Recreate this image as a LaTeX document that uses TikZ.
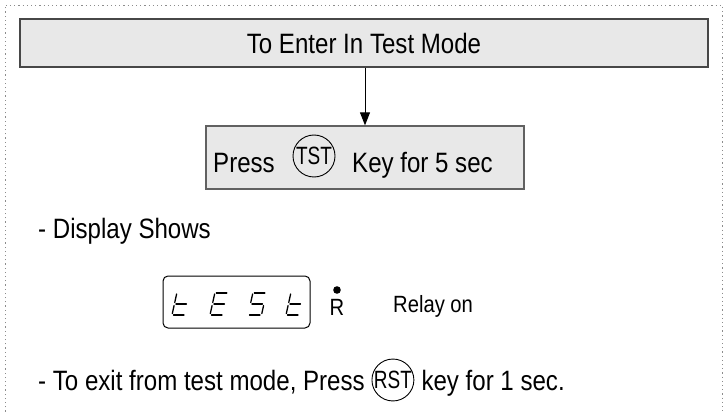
\documentclass[tikz,border=0pt]{standalone}
\usepackage{fontspec}
\setmainfont[FakeStretch=0.86]{Liberation Sans}
\newfontfamily\keyfont[FakeStretch=0.76]{Liberation Sans}
\usetikzlibrary{arrows.meta}
\usetikzlibrary{positioning}
\usetikzlibrary{calc}

\tikzset{
  modebox/.style={draw=black!72, line width=1.3pt, fill=black!9, inner sep=0pt},
  keycap/.style={draw, circle, line width=0.9pt, inner sep=0pt, minimum size=42pt,
    font=\keyfont\fontsize{25}{26}\selectfont},
  bigtext/.style={font=\fontsize{28}{32}\selectfont, inner sep=0pt},
  smalltext/.style={font=\fontsize{23.5}{26}\selectfont, inner sep=0pt},
  seg/.style={line width=1.3pt, line cap=round}
}

\begin{document}
\begin{tikzpicture}[x=1pt, y=-1pt]
  \path[use as bounding box] (0, 0) rectangle (728, 414);
  % dotted frame, open at the bottom
  \draw[black!45, line width=0.9pt, dash pattern=on 1.2pt off 3pt]
    (5, 420) -- (5, 5) -- (722, 5) -- (722, 420);

  \node[modebox, minimum width=688pt, minimum height=48pt] (enter) at (364, 43) {};
  \node[bigtext, anchor=base] (entertxt) at (364, 54) {To Enter In Test Mode};

  \node[modebox, draw=black!62, minimum width=318pt, minimum height=63pt] (press) at (365, 157.5) {};
  \draw[line width=1pt, -{Triangle[length=13pt, width=10pt]}] (enter.south -| press.north) -- (press.north);

  \node[bigtext, anchor=base west] (presstxt) at (213, 173) {Press};
  \node[keycap] (tst) at (314, 156) {TST};
  \node[bigtext, anchor=base west] (keytxt) at (352, 173) {Key for 5 sec};

  \node[bigtext, anchor=base west] (shows) at (38, 239) {- Display Shows};

  % seven segment display
  \node[draw, line width=1pt, rounded corners=5pt, minimum width=147pt, minimum height=52pt] (display) at (236.5, 302) {};
  \foreach \dx in {172, 210, 248, 286} {
    \begin{scope}[shift={(\dx, 315)}, xslant=0.22]
      \draw[seg] (0, -21) -- (0, -12.5);   % f
      \draw[seg] (1.5, -11) -- (12, -11);  % g
      \draw[seg] (1.5, 0) -- (12, 0);      % d
    \end{scope}
  }
  \foreach \dx in {172, 210, 286} {
    \begin{scope}[shift={(\dx, 315)}, xslant=0.22]
      \draw[seg] (0, -9.5) -- (0, -1.5);   % e
    \end{scope}
  }
  \foreach \dx in {210, 248} {
    \begin{scope}[shift={(\dx, 315)}, xslant=0.22]
      \draw[seg] (1.5, -22) -- (12, -22);  % a
    \end{scope}
  }
  \begin{scope}[shift={(248, 315)}, xslant=0.22]
    \draw[seg] (13.5, -9.5) -- (13.5, -1.5); % c
  \end{scope}

  \fill (337, 290) circle (3.8pt);
  \node[smalltext, anchor=base] (relayR) at (337, 315) {R};
  \node[smalltext, anchor=base west] (relay) at (393, 312) {Relay on};

  \node[bigtext, anchor=base west] (exit) at (38, 390) {- To exit from test mode, Press};
  \node[keycap, minimum size=40pt] (rst) at ($(exit.base east) + (28, -10)$) {RST};
  \node[bigtext, anchor=base west] (exitkey) at ($(rst.east |- exit.base) + (7, 0)$) {key for 1 sec.};
\end{tikzpicture}
\end{document}
